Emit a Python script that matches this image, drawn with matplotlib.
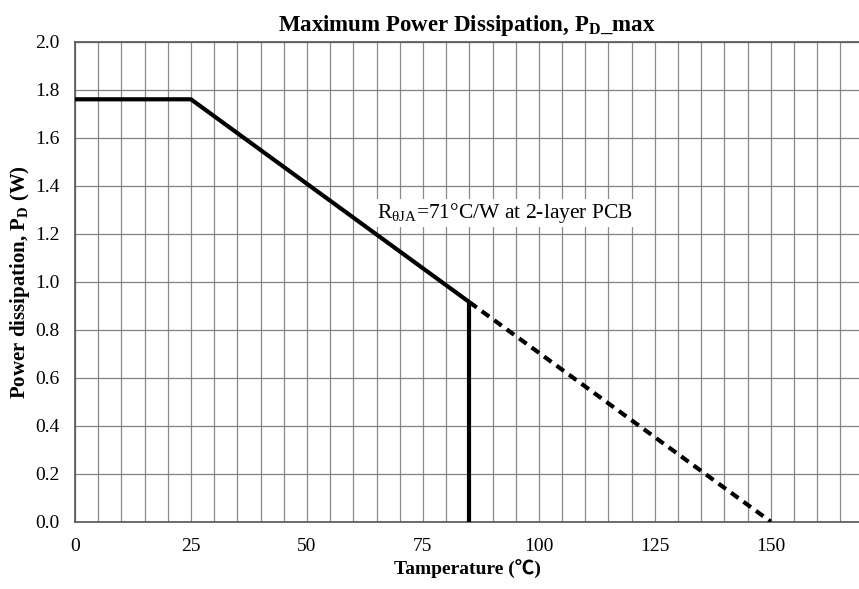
import matplotlib
matplotlib.use("Agg")
import matplotlib.pyplot as plt
import numpy as np

plt.rcParams['font.family'] = ['Liberation Serif', 'DejaVu Serif']
plt.rcParams['mathtext.fontset'] = 'custom'
plt.rcParams['mathtext.rm'] = 'Liberation Serif'
plt.rcParams['mathtext.bf'] = 'Liberation Serif:bold'

# Data
solid_temp = [0, 25, 85]
solid_power = [1.76, 1.76, 0.915]
drop_temp = [85, 85]
drop_power = [0.915, 0.0]
dash_temp = [85, 150]
dash_power = [0.915, 0.0]
xticks = [0, 25, 50, 75, 100, 125, 150]
yticks = [0.0, 0.2, 0.4, 0.6, 0.8, 1.0, 1.2, 1.4, 1.6, 1.8, 2.0]

fig = plt.figure(figsize=(8.59, 5.89), dpi=100)
ax = fig.add_axes([75 / 859, 1 - 521.7 / 589, 1 - 75 / 859, 480 / 589])

ax.set_xlim(0, 169)
ax.set_ylim(0, 2.0)
ax.set_xticks(np.arange(0, 170, 5), minor=True)
ax.set_xticks(xticks)
ax.set_yticks(yticks)
ax.set_yticklabels([f"{v:.1f}" for v in yticks])
ax.grid(True, which='both', axis='x', color='#8a8a8a', lw=0.9)
ax.grid(True, which='major', axis='y', color='#808080', lw=0.9)
ax.set_axisbelow(True)
ax.tick_params(which='both', length=0, labelsize=14)
ax.tick_params(axis='x', pad=12)
ax.tick_params(axis='y', pad=11)
ax.spines['right'].set_visible(False)
for s in ['top', 'left', 'bottom']:
    ax.spines[s].set_color('#555555')
    ax.spines[s].set_linewidth(1.2)

ax.plot(solid_temp, solid_power, color='black', lw=3, solid_capstyle='butt', zorder=3)
ax.plot(drop_temp, drop_power, color='black', lw=3, solid_capstyle='butt', zorder=3)
ax.plot(dash_temp, dash_power, color='black', lw=3, ls=(0, (2.2, 1.5)), zorder=3)

ax.text(65.2, 1.286, r'R$_{\mathregular{\theta JA}}$=71°C/W at 2-layer PCB', fontsize=15.5,
        ha='left', va='center',
        bbox=dict(facecolor='white', edgecolor='none', pad=1.5), zorder=4)

ax.set_title(r'Maximum Power Dissipation, P$_{\mathbf{D}}$_max', fontsize=16.5,
             fontweight='bold', pad=8)
ax.set_xlabel('Tamperature (℃)', fontsize=14, fontweight='bold', labelpad=3,
              family=['Liberation Serif', 'Noto Sans CJK SC'])
ax.set_ylabel(r'Power dissipation, P$_{\mathbf{D}}$ (W)', fontsize=15, fontweight='bold', labelpad=2)

fig.savefig('out.png', dpi=100)
